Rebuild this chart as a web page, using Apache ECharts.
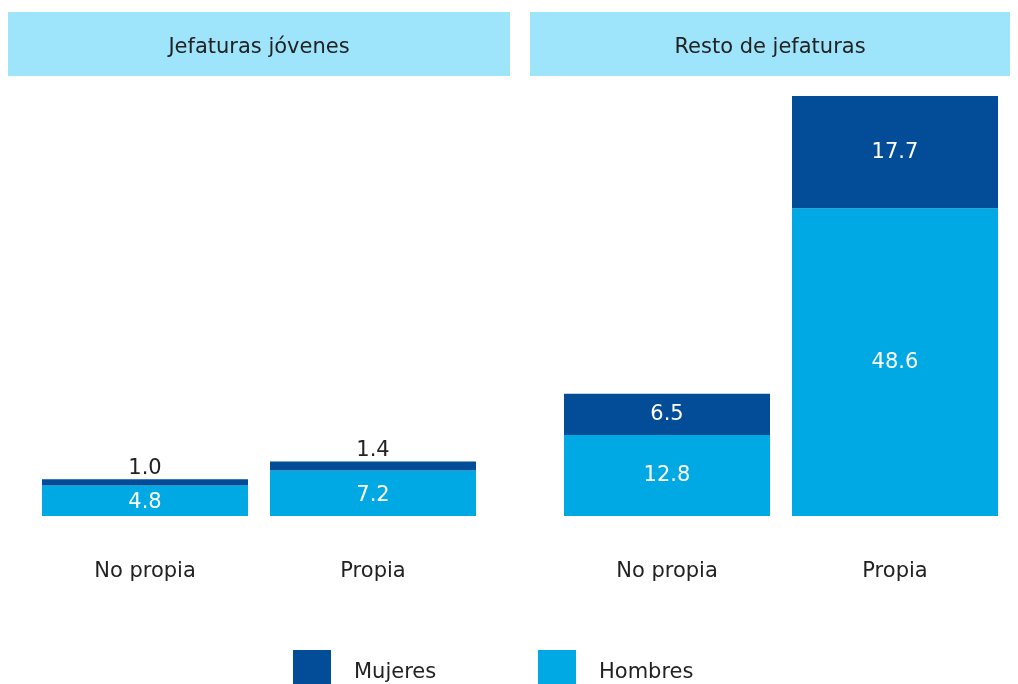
<!DOCTYPE html>
<html>
<head>
<meta charset="utf-8">
<script src="https://cdn.jsdelivr.net/npm/echarts@6/dist/echarts.min.js"></script>
<style>
  html, body { margin: 0; padding: 0; background: #fff; }
  #chart { width: 1018px; height: 684px; }
</style>
</head>
<body>
<div id="chart"></div>
<script>
const categories = ['No propia', 'Propia']
const panels = ['Jefaturas jóvenes', 'Resto de jefaturas']
const jovenesMujeres = [1.0, 1.4]
const jovenesHombres = [4.8, 7.2]
const restoMujeres = [6.5, 17.7]
const restoHombres = [12.8, 48.6]

const DARK = '#024c98'
const LIGHT = '#00a8e4'
const HEAD = '#9ee5fb'
const FONT = 'DejaVu Sans'
const SIZE = 21
const yMax = 66.3

const chart = echarts.init(document.getElementById('chart'))

const xAxisCfg = (gridIndex) => ({
  type: 'category', gridIndex, data: categories,
  axisLine: { show: false }, axisTick: { show: false },
  axisLabel: { color: '#222', fontSize: SIZE, fontFamily: FONT, margin: 45 }
})
const yAxisCfg = (gridIndex) => ({
  type: 'value', gridIndex, min: 0, max: yMax, show: false
})

const bar = (name, data, idx, stack, label) => ({
  name, type: 'bar', data, stack,
  xAxisIndex: idx, yAxisIndex: idx,
  barWidth: 206,
  itemStyle: { color: name === 'Mujeres' ? DARK : LIGHT },
  label: Object.assign({
    show: true, fontSize: SIZE, fontFamily: FONT, color: '#fff',
    formatter: p => p.value.toFixed(1)
  }, label || {})
})

const header = (left, width, text) => ({
  type: 'group', left, top: 12,
  children: [
    { type: 'rect', shape: { x: 0, y: 0, width, height: 64 }, style: { fill: HEAD } },
    { type: 'text', x: width / 2, y: 36,
      style: { text, fill: '#222', font: SIZE + 'px "' + FONT + '"', textAlign: 'center', textVerticalAlign: 'middle' } }
  ]
})

const legendCfg = (name, left) => ({
  data: [name], left, top: 650, padding: 0, itemWidth: 38, itemHeight: 36, icon: 'rect',
  formatter: '{t|{name}}',
  textStyle: {
    fontSize: SIZE, fontFamily: FONT, color: '#222', padding: [0, 0, 0, 18],
    rich: { t: { fontSize: SIZE, fontFamily: FONT, color: '#222', padding: [10, 0, 0, 0] } }
  }
})

chart.setOption({
  animation: false,
  grid: [
    { left: 31, width: 456, top: 96, height: 420 },
    { left: 553, width: 456, top: 96, height: 420 }
  ],
  xAxis: [xAxisCfg(0), xAxisCfg(1)],
  yAxis: [yAxisCfg(0), yAxisCfg(1)],
  legend: [legendCfg('Mujeres', 293), legendCfg('Hombres', 538)],
  graphic: [header(8, 502, panels[0]), header(530, 480, panels[1])],
  series: [
    bar('Hombres', jovenesHombres, 0, 'j', { position: 'inside', offset: [0, 2] }),
    bar('Mujeres', jovenesMujeres, 0, 'j', { position: 'top', color: '#222', distance: 0 }),
    bar('Hombres', restoHombres, 1, 'r', { position: 'inside' }),
    bar('Mujeres', restoMujeres, 1, 'r', { position: 'inside' })
  ]
})
</script>
</body>
</html>
